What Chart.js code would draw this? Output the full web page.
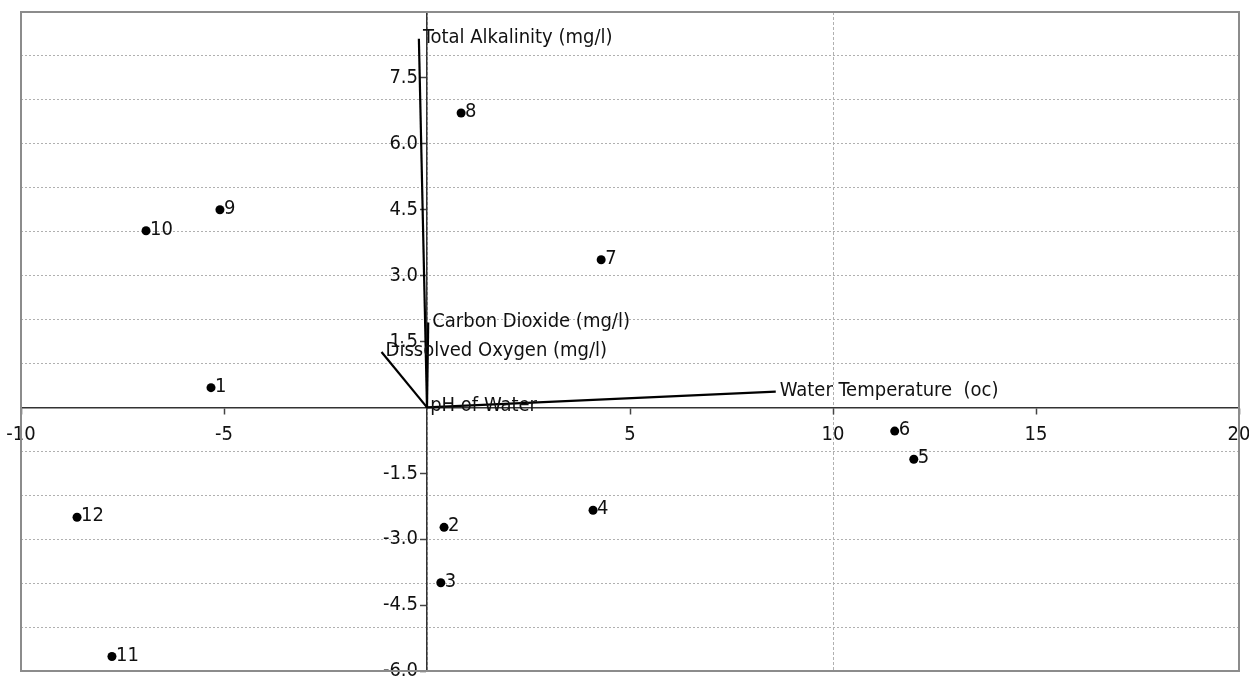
<!DOCTYPE html>
<html>
<head>
<meta charset="utf-8">
<script src="https://cdn.jsdelivr.net/npm/chart.js@4/dist/chart.umd.min.js"></script>
<style>
  html, body { margin: 0; padding: 0; background: #fff; overflow: hidden; }
  #wrap { width: 1249px; height: 677px; }
</style>
</head>
<body>
<div id="wrap"><canvas id="biplot"></canvas></div>
<script>
// scores of the 12 samples
const sampleLabels = ['1', '2', '3', '4', '5', '6', '7', '8', '9', '10', '11', '12'];
const sampleX = [-5.32, 0.42, 0.34, 4.09, 11.99, 11.52, 4.29, 0.84, -5.10, -6.92, -7.76, -8.62];
const sampleY = [0.45, -2.73, -3.99, -2.34, -1.18, -0.54, 3.36, 6.70, 4.50, 4.02, -5.67, -2.50];

// loadings of the variables (arrows from the origin)
const varNames = ['Total Alkalinity (mg/l)', 'Carbon Dioxide (mg/l)', 'Dissolved Oxygen (mg/l)', 'pH of Water', 'Water Temperature  (oc)'];
const varX = [-0.20, 0.03, -1.12, -0.02, 8.59];
const varY = [8.39, 1.93, 1.26, 0.02, 0.36];

// axes
const xMin = -10, xMax = 20, xStep = 5;
const yMin = -6, yMax = 9, yStep = 1.5;

const FONT = "'DejaVu Sans Condensed', 'Liberation Sans Narrow', sans-serif";
Chart.defaults.font.family = FONT;
Chart.defaults.font.size = 20;
Chart.defaults.color = '#111';

const datasets = [{
  label: 'samples',
  data: sampleX.map((x, i) => ({ x, y: sampleY[i] })),
  pointRadius: 4.5,
  pointBackgroundColor: '#000',
  pointBorderWidth: 0,
  showLine: false,
}];

varNames.forEach((name, i) => {
  datasets.push({
    label: name,
    data: [{ x: 0, y: 0 }, { x: varX[i], y: varY[i] }],
    showLine: true,
    borderColor: '#000',
    borderWidth: 2.2,
    pointRadius: 0,
  });
});

// texts next to points and arrow tips
const markLabels = {
  id: 'markLabels',
  afterDatasetsDraw(chart) {
    const ctx = chart.ctx;
    ctx.save();
    ctx.font = '20px ' + FONT;
    ctx.fillStyle = '#111';
    ctx.textAlign = 'left';
    ctx.textBaseline = 'alphabetic';
    chart.data.datasets.forEach((ds, di) => {
      const meta = chart.getDatasetMeta(di);
      if (di === 0) {
        meta.data.forEach((pt, i) => ctx.fillText(sampleLabels[i], pt.x + 4, pt.y + 4));
      } else {
        const tip = meta.data[1];
        ctx.fillText(ds.label, tip.x + 4, tip.y + 4);
      }
    });
    ctx.restore();
  }
};

// grey frame round the plot area
const frame = {
  id: 'frame',
  afterDraw(chart) {
    const { left, top, right, bottom } = chart.chartArea;
    const ctx = chart.ctx;
    ctx.save();
    ctx.strokeStyle = '#8c8c8c';
    ctx.lineWidth = 2;
    ctx.strokeRect(left, top, right - left, bottom - top);
    ctx.restore();
  }
};

const noPad = (s) => { s.paddingLeft = 0; s.paddingRight = 0; s.paddingTop = 0; s.paddingBottom = 0; };

new Chart(document.getElementById('biplot'), {
  type: 'scatter',
  data: { datasets },
  plugins: [markLabels, frame],
  options: {
    responsive: true,
    maintainAspectRatio: false,
    animation: false,
    layout: { padding: { left: 21, top: 12, right: 10, bottom: 6 } },
    plugins: { legend: { display: false }, tooltip: { enabled: false } },
    scales: {
      xg: {
        type: 'linear', position: 'top', min: xMin, max: xMax,
        ticks: { display: false, stepSize: 10 },
        grid: { color: '#b0b0b0', lineWidth: 1, drawTicks: false },
        border: { display: false, dash: [3, 2] },
        afterFit: noPad,
      },
      yg: {
        type: 'linear', position: 'left', min: yMin, max: yMax,
        ticks: { display: false, stepSize: 1 },
        grid: { color: '#b0b0b0', lineWidth: 1, drawTicks: false },
        border: { display: false, dash: [2, 2] },
        afterFit: noPad,
      },
      x: {
        type: 'linear', position: { y: 0 }, min: xMin, max: xMax,
        ticks: {
          stepSize: xStep, padding: 9, maxRotation: 0,
          callback: (v) => (v === 0 ? null : String(v)),
        },
        grid: { drawOnChartArea: false, tickLength: 6, tickColor: '#444', tickWidth: 1.5 },
        border: { color: '#333', width: 1.5 },
        afterFit: noPad,
      },
      y: {
        type: 'linear', position: { x: 0 }, min: yMin, max: yMax,
        ticks: {
          stepSize: yStep,
          // labels sit right-aligned on the axis itself, so keep a gap after the text
          callback: (v) => (v === 0 || v === yMax ? null : v.toFixed(1) + '\u2002'),
        },
        grid: { drawOnChartArea: false, tickLength: 6, tickColor: '#444', tickWidth: 1.5 },
        border: { color: '#333', width: 1.5 },
        afterFit: noPad,
      },
    },
  },
});
</script>
</body>
</html>
